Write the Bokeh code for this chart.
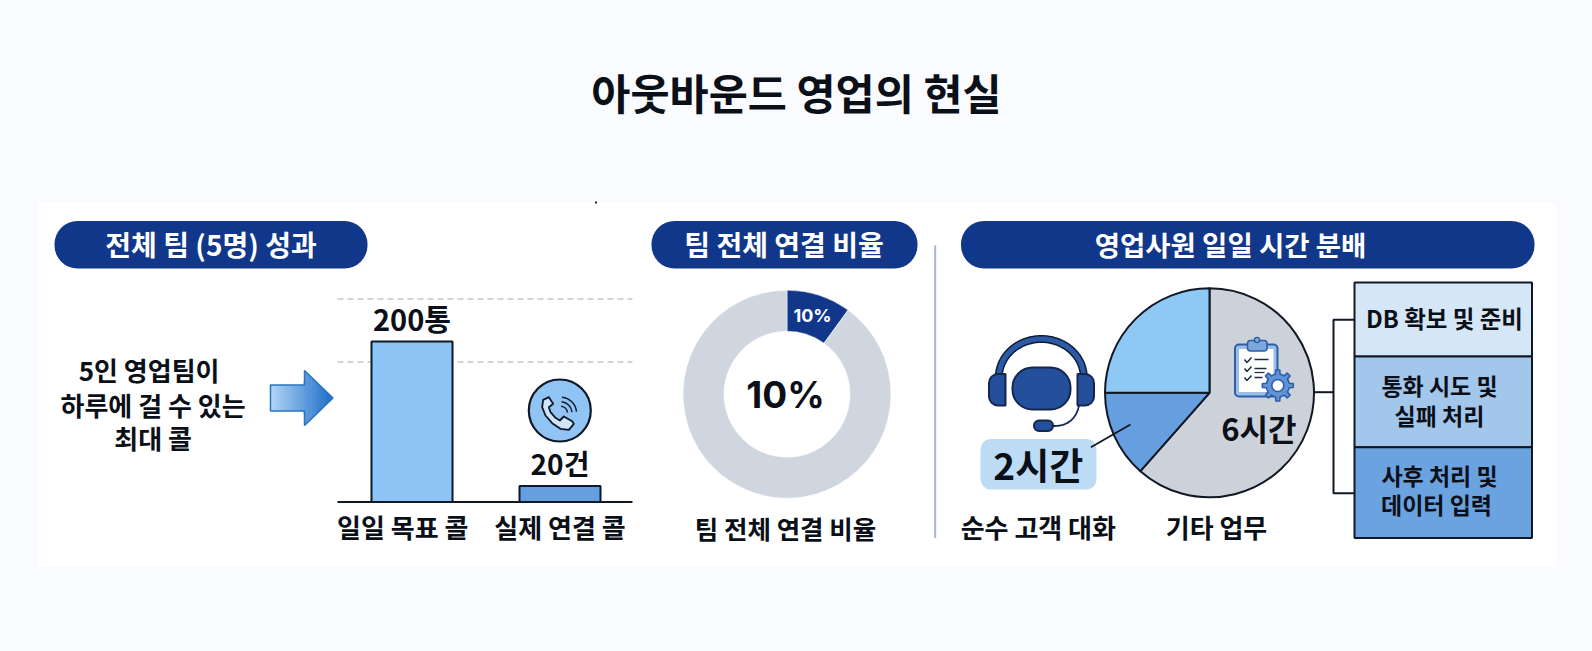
import math
import numpy as np
from bokeh.core.properties import value
from bokeh.embed import file_html
from bokeh.models import Range1d
from bokeh.plotting import figure
from bokeh.resources import INLINE

# ---- data ----
title = "아웃바운드 영업의 현실"
section_titles = ["전체 팀 (5명) 성과", "팀 전체 연결 비율", "영업사원 일일 시간 분배"]
call_categories = ["일일 목표 콜", "실제 연결 콜"]
call_values = [200, 20]
call_labels = ["200통", "20건"]
intro_lines = ["5인 영업팀이", "하루에 걸 수 있는", "최대 콜"]
donut_values = [10, 90]
donut_label = "10%"
donut_caption = "팀 전체 연결 비율"
pie_names = ["기타 업무", "순수 고객 대화", "기타"]
pie_shares = [61.5, 13.5, 25.0]
pie_labels = ["6시간", "2시간"]
task_lines = [["DB 확보 및 준비"], ["통화 시도 및", "실패 처리"], ["사후 처리 및", "데이터 입력"]]

NAVY = "#11378a"
INK = "#0b0f18"
LINE = "#101826"
BG = "#f9fbff"
FONT = "Noto Sans CJK KR"

W, H = 1576, 635
X0, X1, Y0, Y1 = 0, W, H, 0
p = figure(width=W, height=H, output_backend="svg", toolbar_location=None,
           x_range=Range1d(X0, X1), y_range=Range1d(Y0, Y1), min_border=0,
           background_fill_color=BG, border_fill_color=BG, outline_line_color=None)
p.axis.visible = False
p.grid.visible = False

# scales for the bar chart
base_py, per_unit = 501.6, 0.803
first_px, step_px = 411.5, 148.0
p.extra_y_ranges["calls"] = Range1d((base_py - Y0) / per_unit, (base_py - Y1) / per_unit)
p.extra_x_ranges["cats"] = Range1d((X0 - first_px) / step_px, (X1 - first_px) / step_px)


def label(x, y, txt, size, color=INK, style="bold", font=FONT, shift=-1.5):
    p.text(x=[x], y=[y + shift], text=[txt], text_font=value(font), text_font_size=f"{size}px",
           text_font_style=style, text_color=color, text_align="center", text_baseline="middle")


# panel
p.quad(left=[38], right=[1555], top=[202], bottom=[566], fill_color="#ffffff", line_color=None)
p.quad(left=[594.5], right=[596.5], top=[201], bottom=[203], fill_color="#222222", line_color=None)
label(796, 92, title, 42.5)

# pills
pills = [(54, 367, 210.5, 28), (651, 917, 783.5, 28), (960.5, 1534, 1230, 27.5)]
for (l, r, cx, fs), txt in zip(pills, section_titles):
    p.quad(left=[l], right=[r], top=[220.5], bottom=[268], fill_color=NAVY, line_color=None,
           border_radius=23)
    label(cx, 244.5, txt, fs, "#ffffff")

# left text
for (x, y), txt in zip([(148.6, 370), (152.6, 405), (152.6, 438)], intro_lines):
    label(x, y, txt, 26)

# arrow with gradient strips
shaft_l, shaft_r, head_tip = 270.0, 304.0, 332.5
cy, sh, hh = 397.5, 13.0, 27.5
n = 40
xs = np.linspace(shaft_l, head_tip, n + 1)
c0, c1 = np.array([176, 213, 246]), np.array([28, 110, 200])
for i in range(n):
    a, b = xs[i], min(xs[i + 1] + 0.6, head_tip)
    ha = sh if a < shaft_r else hh * (head_tip - a) / (head_tip - shaft_r)
    hb = sh if b <= shaft_r else hh * (head_tip - b) / (head_tip - shaft_r)
    col = c0 + (c1 - c0) * (i / (n - 1))
    p.patch(x=[a, b, b, a], y=[cy - ha, cy - hb, cy + hb, cy + ha],
            fill_color="#%02x%02x%02x" % tuple(int(v) for v in col), line_color=None)
p.patch(x=[shaft_l, shaft_r, shaft_r, head_tip, shaft_r, shaft_r, shaft_l],
        y=[cy - sh, cy - sh, cy - hh, cy, cy + hh, cy + sh, cy + sh],
        fill_color=None, line_color="#2a74bd", line_width=1.5)

# bars
for py in (298.5, 361.5):
    p.line(x=[337, 632], y=[py, py], line_color="#c6c6c6", line_width=1.5, line_dash="6 4")
p.vbar(x=[0, 1], top=call_values, bottom=0, width=81 / step_px,
       fill_color=["#8cc5f5", "#659fdf"], line_color=LINE, line_width=2,
       x_range_name="cats", y_range_name="calls")
p.line(x=[337, 632], y=[base_py, base_py], line_color=LINE, line_width=2)
for i, (v, txt, fs) in enumerate(zip(call_values, call_labels, (29, 28))):
    p.text(x=[i], y=[v], text=[txt], x_range_name="cats", y_range_name="calls",
           text_font=value(FONT), text_font_size=f"{fs}px", text_font_style="bold",
           text_color=INK, text_align="center", text_baseline="middle",
           y_offset=[-23.5], x_offset=[0])
label(402.3, 527, call_categories[0], 26)
label(559.5, 527, call_categories[1], 26)

# phone icon
ox, oy = 500, 360
p.circle(x=[559.3], y=[410], radius=31, fill_color="#8fc4f4", line_color=LINE, line_width=2.2)
hx = [145, 128, 125, 135, 155, 180, 205, 220, 215, 190, 178, 165, 150, 145, 158, 145]
hy = [110, 118, 140, 165, 188, 205, 208, 190, 182, 168, 180, 172, 155, 140, 130, 110]
p.patch(x=[ox + v / 3 for v in hx], y=[oy + v / 3 for v in hy], fill_color="#cfe5fa",
        line_color=LINE, line_width=1.8, line_join="round")
for r in (7, 11.5, 16):
    p.arc(x=[500 + 180 / 3], y=[360 + 158 / 3], radius=r, start_angle=math.radians(5),
          end_angle=math.radians(85), direction="anticlock", line_color=LINE, line_width=1.4)

# donut
cum = np.cumsum([0] + donut_values) / sum(donut_values) * 2 * math.pi
starts = math.pi / 2 - cum[:-1]
ends = math.pi / 2 - cum[1:]
p.annular_wedge(x=786.5, y=393.7, inner_radius=63, outer_radius=104, start_angle=starts,
                end_angle=ends, direction="clock", fill_color=[NAVY, "#cfd6e0"],
                line_color="#ffffff", line_width=0.5)
label(812, 316, donut_label, 18, "#ffffff", "bold", "Inter")
label(785, 395, donut_label, 37, INK, "bold", "Inter")
label(785, 528, donut_caption, 25.5)
p.line(x=[934.7, 934.7], y=[245, 537.5], line_color="#aab5c9", line_width=2)

# pie
cum = np.cumsum([0] + pie_shares) / sum(pie_shares) * 2 * math.pi
starts = math.pi / 2 - cum[:-1]
ends = math.pi / 2 - cum[1:]
p.wedge(x=1209, y=392.3, radius=104.5, start_angle=starts, end_angle=ends, direction="clock",
        fill_color=["#cdd2da", "#669fdf", "#8ec8f5"], line_color=LINE, line_width=2)
label(1258.4, 428.5, pie_labels[0], 31)

# clipboard icon
BL = "#2d5ea6"
p.quad(left=[1234.5], right=[1277], top=[344], bottom=[396], fill_color="#9cbde5",
       line_color=BL, line_width=2, border_radius=4)
p.quad(left=[1238.5], right=[1273], top=[348.5], bottom=[391.5], fill_color="#ffffff", line_color=None)
p.quad(left=[1247], right=[1266.5], top=[340], bottom=[350.5], fill_color="#7ea8dc",
       line_color=BL, line_width=1.6, border_radius=3)
p.circle(x=[1256.5], y=[339.5], radius=2.6, fill_color="#7ea8dc", line_color=BL, line_width=1.4)
for i, (py, ln) in enumerate(zip((360, 369, 378), (1268, 1266, 1262))):
    p.line(x=[1244, 1246.5, 1251], y=[py - 1, py + 2, py - 3], line_color="#1b2b45", line_width=1.5)
    p.line(x=[1254, ln], y=[py - 1, py - 1], line_color="#1b2b45", line_width=1.5)
    if i == 1:
        p.line(x=[1254, 1264], y=[py + 3, py + 3], line_color="#1b2b45", line_width=1.2)
gx, gy = 1277.3, 385.0
ang = np.linspace(0, 2 * math.pi, 96, endpoint=False)
rad = [15.5 if ((a + 0.19) % (2 * math.pi / 8)) < 0.38 else 11.5 for a in ang]
p.patch(x=gx + np.array(rad) * np.cos(ang), y=gy + np.array(rad) * np.sin(ang),
        fill_color="#5f92d6", line_color=BL, line_width=1.6, line_join="round")
p.circle(x=[gx], y=[gy], radius=6, fill_color="#ffffff", line_color=BL, line_width=1.6)

# headset icon
t = np.linspace(math.pi * 1.02, 1.98 * math.pi, 60)
bx, by = 1040.8 + 42.5 * np.cos(t), 377 + 38.5 * np.sin(t)
p.line(x=bx, y=by, line_color="#101c38", line_width=8)
p.line(x=bx, y=by, line_color="#2b5aa6", line_width=5)
DK = "#14264e"
HS = "#24509b"
p.quad(left=[988.5], right=[1005], top=[373.5], bottom=[405], fill_color=HS, line_color=DK,
       line_width=2, border_radius=(9, 0, 0, 9))
p.quad(left=[1077], right=[1093.5], top=[373.5], bottom=[405], fill_color=HS, line_color=DK,
       line_width=2, border_radius=(0, 9, 9, 0))
p.quad(left=[1012], right=[1070], top=[367], bottom=[409], fill_color=HS, line_color=DK,
       line_width=2, border_radius=20)
s = np.linspace(0, 1, 24)
mx = (1 - s) ** 2 * 1078.5 + 2 * s * (1 - s) * 1074 + s ** 2 * 1052
my = (1 - s) ** 2 * 405 + 2 * s * (1 - s) * 426 + s ** 2 * 425.5
p.line(x=mx, y=my, line_color=DK, line_width=1.8)
p.quad(left=[1033.5], right=[1052.5], top=[420], bottom=[430.5], fill_color=HS, line_color=DK,
       line_width=2, border_radius=5)

# 2h badge + leader
p.quad(left=[980], right=[1096], top=[438.5], bottom=[489], fill_color="#bcdcf6", line_color=None,
       border_radius=10)
p.line(x=[1090.4, 1130], y=[446.7, 424], line_color=LINE, line_width=1.8)
label(1037.8, 465, pie_labels[1], 37)
label(1037.8, 527, pie_names[1], 26)
label(1216, 527, pie_names[0], 26)

# task stack
box_tops = [282, 356, 446.7]
box_bottoms = [356, 446.7, 537.5]
box_cols = ["#d5e6f6", "#a3c7ea", "#6ba3e0"]
p.quad(left=1354, right=1531.5, top=box_tops, bottom=box_bottoms, fill_color=box_cols,
       line_color=LINE, line_width=2)
p.line(x=[1314.5, 1333], y=[391.7, 391.7], line_color=LINE, line_width=2)
p.line(x=[1354, 1333, 1333, 1354], y=[319.3, 319.3, 492.7, 492.7], line_color=LINE, line_width=2)
label(1444, 319, task_lines[0][0], 23.5)
for (x, y), txt in zip([(1439, 385.7), (1439, 416), (1439, 476), (1436, 505)],
                       task_lines[1] + task_lines[2]):
    label(x, y, txt, 23)

html = file_html(p, INLINE)
html = html.replace("</head>", f"<style>html,body{{background:{BG};}}</style></head>", 1)
open("out.html", "w").write(html)
